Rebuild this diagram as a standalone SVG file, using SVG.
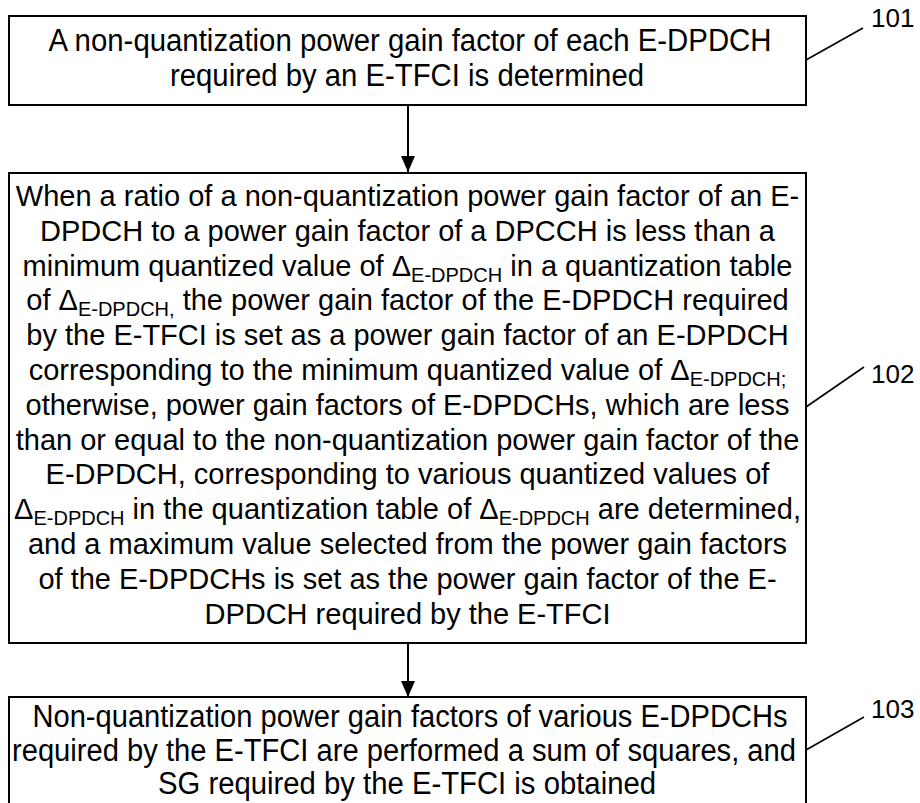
<svg xmlns="http://www.w3.org/2000/svg" width="920" height="803" viewBox="0 0 920 803">
<defs>
<style>
.box{fill:#fff;stroke:#000;stroke-width:2}
.t{font-family:"Liberation Sans",Arial,sans-serif;fill:#000;text-anchor:middle}
.n{font-size:31px}
.m{font-size:29px}
.lbl{font-family:"Liberation Sans",Arial,sans-serif;font-size:26px;fill:#000}
.con{stroke:#000;stroke-width:2;fill:none}
.lead{stroke:#000;stroke-width:1.6;fill:none}
</style>
<marker id="ah" viewBox="0 0 16 14" refX="16" refY="7" markerWidth="16" markerHeight="14" markerUnits="userSpaceOnUse" orient="auto">
<path d="M0,0 L16,7 L0,14 Z" fill="#000"/>
</marker>
</defs>
<rect width="920" height="803" fill="#fff"/>
<g id="connectors">
<line class="con" x1="408" y1="105" x2="408" y2="172" marker-end="url(#ah)"/>
<line class="con" x1="408" y1="643" x2="408" y2="697" marker-end="url(#ah)"/>
<line class="lead" x1="806" y1="60" x2="863" y2="28"/>
<line class="lead" x1="806" y1="407" x2="864" y2="367"/>
<line class="lead" x1="806" y1="750" x2="864" y2="717"/>
</g>
<g id="n101">
<rect class="box" x="9" y="16" width="797" height="89"/>
<text class="t n" x="410" y="51" textLength="723" lengthAdjust="spacingAndGlyphs">A non-quantization power gain factor of each E-DPDCH</text>
<text class="t n" x="407" y="86" textLength="474" lengthAdjust="spacingAndGlyphs">required by an E-TFCI is determined</text>
<text class="lbl" x="871" y="27">101</text>
</g>
<g id="n102">
<rect class="box" x="9" y="173" width="797" height="470"/>
<text class="t m" x="407.5" y="206">When a ratio of a non-quantization power gain factor of an E-</text>
<text class="t m" x="407.5" y="240.8">DPDCH to a power gain factor of a DPCCH is less than a</text>
<text class="t m" x="407.5" y="275.6">minimum quantized value of Δ<tspan font-size="20" dy="6">E-DPDCH</tspan><tspan dy="-6"> in a quantization table</tspan></text>
<text class="t m" x="407.5" y="310.4">of Δ<tspan font-size="20" dy="6">E-DPDCH,</tspan><tspan dy="-6"> the power gain factor of the E-DPDCH required</tspan></text>
<text class="t m" x="407.5" y="345.2">by the E-TFCI is set as a power gain factor of an E-DPDCH</text>
<text class="t m" x="407.5" y="380">corresponding to the minimum quantized value of Δ<tspan font-size="20" dy="6">E-DPDCH;</tspan></text>
<text class="t m" x="407.5" y="414.8">otherwise, power gain factors of E-DPDCHs, which are less</text>
<text class="t m" x="407.5" y="449.6">than or equal to the non-quantization power gain factor of the</text>
<text class="t m" x="407.5" y="484.4">E-DPDCH, corresponding to various quantized values of</text>
<text class="t m" x="407.5" y="519.2">Δ<tspan font-size="20" dy="6">E-DPDCH</tspan><tspan dy="-6"> in the quantization table of Δ</tspan><tspan font-size="20" dy="6">E-DPDCH</tspan><tspan dy="-6"> are determined,</tspan></text>
<text class="t m" x="407.5" y="554">and a maximum value selected from the power gain factors</text>
<text class="t m" x="407.5" y="588.8">of the E-DPDCHs is set as the power gain factor of the E-</text>
<text class="t m" x="407.5" y="623.6">DPDCH required by the E-TFCI</text>
<text class="lbl" x="871" y="383">102</text>
</g>
<g id="n103">
<rect class="box" x="9" y="697" width="797" height="120"/>
<text class="t n" x="410" y="727" textLength="755" lengthAdjust="spacingAndGlyphs">Non-quantization power gain factors of various E-DPDCHs</text>
<text class="t n" x="404" y="761" textLength="784" lengthAdjust="spacingAndGlyphs">required by the E-TFCI are performed a sum of squares, and</text>
<text class="t n" x="407" y="794" textLength="498" lengthAdjust="spacingAndGlyphs">SG required by the E-TFCI is obtained</text>
<text class="lbl" x="871" y="718">103</text>
</g>
</svg>
